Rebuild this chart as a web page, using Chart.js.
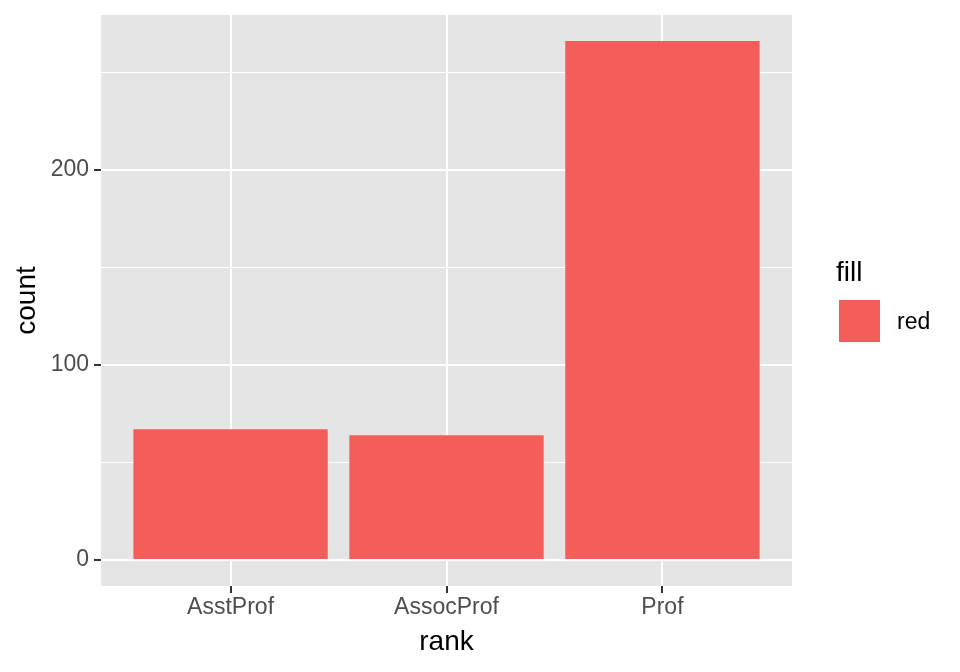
<!DOCTYPE html>
<html>
<head>
<meta charset="utf-8">
<script src="https://cdn.jsdelivr.net/npm/chart.js@4"></script>
<style>
  html, body { margin: 0; padding: 0; background: #ffffff; }
  #wrap { width: 960px; height: 672px; }
</style>
</head>
<body>
<div id="wrap"><canvas id="chart" width="960" height="672"></canvas></div>
<script>
const categories = ['AsstProf', 'AssocProf', 'Prof'];
const counts = [67, 64, 266];
const yTicks = [0, 50, 100, 150, 200, 250];
const legendTitle = 'fill';
const legendLabels = ['red'];

const barColor = '#F35E5A';
const fontFamily = '"Liberation Sans", Arial, Helvetica, sans-serif';

// panel background + legend, drawn around the library's own layout
const panelPlugin = {
    id: 'panel',
    beforeDraw(chart) {
        const a = chart.chartArea;
        const ctx = chart.ctx;
        ctx.save();
        ctx.fillStyle = '#E5E5E5';
        ctx.fillRect(a.left, a.top, a.right - a.left, a.bottom - a.top);
        ctx.restore();
    },
    afterDraw(chart) {
        const ctx = chart.ctx;
        ctx.save();
        ctx.fillStyle = '#000000';
        ctx.font = '28px ' + fontFamily;
        ctx.textBaseline = 'alphabetic';
        ctx.fillText(legendTitle, 836, 281);
        legendLabels.forEach((label, i) => {
            const y = 300 + i * 46;
            ctx.fillStyle = barColor;
            ctx.fillRect(839, y, 41, 42);
            ctx.fillStyle = '#000000';
            ctx.font = '23px ' + fontFamily;
            ctx.textBaseline = 'middle';
            ctx.fillText(label, 897, y + 23);
        });
        ctx.restore();
    }
};

new Chart(document.getElementById('chart').getContext('2d'), {
    type: 'bar',
    data: {
        datasets: [{
            label: legendLabels[0],
            data: categories.map((c, i) => ({ x: i + 1, y: counts[i] })),
            backgroundColor: barColor,
            barPercentage: 0.9,
            categoryPercentage: 1.0
        }]
    },
    options: {
        responsive: false,
        animation: false,
        devicePixelRatio: 1,
        layout: { padding: { top: 15, right: 168, left: 0, bottom: 0 } },
        plugins: {
            legend: { display: false },
            tooltip: { enabled: false }
        },
        scales: {
            x: {
                type: 'linear',
                min: 0.4,
                max: 3.6,
                offset: false,
                afterBuildTicks: scale => { scale.ticks = categories.map((c, i) => ({ value: i + 1 })); },
                afterFit: scale => { scale.height = 86; },
                border: { display: false },
                grid: {
                    offset: false,
                    color: '#FFFFFF',
                    lineWidth: 2,
                    tickLength: 7,
                    tickColor: '#333333',
                    tickWidth: 2
                },
                ticks: {
                    padding: 1,
                    color: '#4D4D4D',
                    font: { size: 23, family: fontFamily },
                    maxRotation: 0,
                    autoSkip: false,
                    callback: v => categories[Math.round(v) - 1]
                },
                title: {
                    display: true,
                    text: 'rank',
                    color: '#000000',
                    font: { size: 28, family: fontFamily },
                    padding: { top: 0, bottom: 13 }
                }
            },
            y: {
                min: -13.3,
                max: 279.3,
                afterBuildTicks: scale => { scale.ticks = yTicks.map(v => ({ value: v })); },
                afterFit: scale => {
                    scale.width = 101;
                    scale.paddingTop = 0;
                    scale.paddingBottom = 0;
                },
                border: { display: false },
                grid: {
                    color: '#FFFFFF',
                    lineWidth: c => (c.tick && c.tick.value % 100 === 0 ? 2 : 1),
                    tickLength: 7,
                    tickColor: c => (c.tick && c.tick.value % 100 === 0 ? '#333333' : 'rgba(0,0,0,0)'),
                    tickWidth: 2
                },
                ticks: {
                    padding: 5,
                    color: '#4D4D4D',
                    font: { size: 23, family: fontFamily },
                    autoSkip: false,
                    callback: v => (v % 100 === 0 ? String(v) : '')
                },
                title: {
                    display: true,
                    text: 'count',
                    color: '#000000',
                    font: { size: 28, family: fontFamily },
                    padding: { top: 10, bottom: 0 }
                }
            }
        }
    },
    plugins: [panelPlugin]
});
</script>
</body>
</html>
